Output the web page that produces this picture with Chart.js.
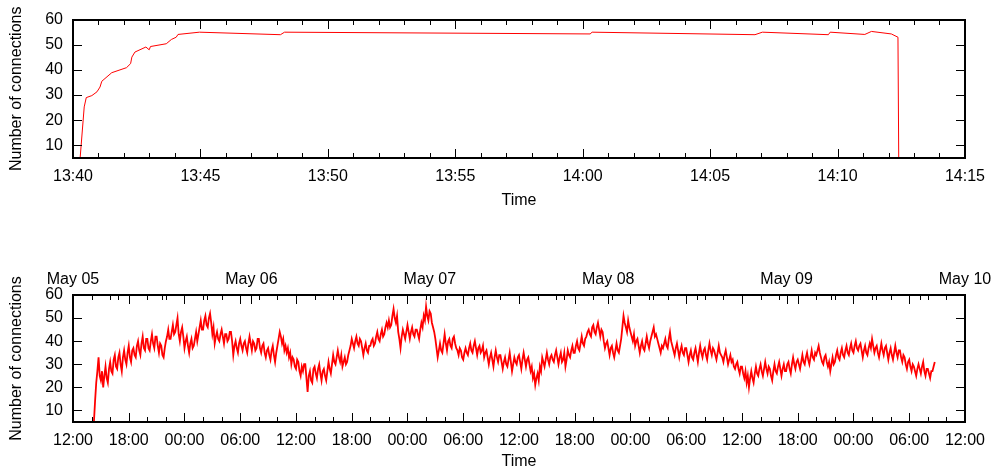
<!DOCTYPE html>
<html>
<head>
<meta charset="utf-8">
<script src="https://cdn.jsdelivr.net/npm/chart.js@4.4.0/dist/chart.umd.min.js"></script>
<style>
  body { margin: 0; background: #fff; }
  canvas { position: absolute; left: 0; }
  #haut { top: 0; }
  #bas { top: 237px; }
</style>
</head>
<body>
<canvas id="haut" width="994" height="237"></canvas>
<canvas id="bas" width="994" height="237"></canvas>
<script>
// top panel : minutes after 13:40, number of connections
var debutMinutes = [0.28, 0.44, 0.52, 0.74, 0.94, 1.06, 1.13, 1.52, 2.1, 2.26, 2.31, 2.43, 2.86, 2.99, 3.04, 3.66, 3.86, 4.05, 4.12, 4.96, 8.14, 8.3, 20.29, 20.37, 26.76, 27.05, 29.64, 29.71, 31.07, 31.33, 32.11, 32.37, 32.4];
var debutConnexions = [5, 25.3, 29, 29.8, 31.3, 33.2, 35.5, 38.9, 40.9, 42.5, 45.1, 47.1, 49.1, 48, 49.3, 50.4, 52.1, 53, 54.1, 55, 54, 55, 54.3, 55, 54, 55, 54, 55, 54.1, 55.3, 54.3, 53, 5];

// bottom panel : one reading every 7.5 minutes, hours counted from May 05 00:00
var heureDebut = 14.25;
var pasHeures = 0.125;
var connexionsSemaine = [
  5, 14, 22, 27, 33, 25,
  23, 27, 20, 25, 29, 24, 22, 28,   31, 27, 26, 32, 34, 29, 28, 33,
  35, 30, 27, 33, 36, 32, 30, 35,   38, 33, 31, 36, 37, 34, 33, 38,
  40, 36, 34, 39, 42, 37, 36, 41,   41, 37, 36, 40, 43, 39, 37, 42,
  42, 38, 35, 39, 38, 34, 33, 37,   40, 42, 45, 41, 41, 44, 47, 43,
  44, 47, 50, 43, 40, 44, 46, 42,   37, 40, 42, 38, 35, 39, 41, 37,
  38, 41, 44, 40, 43, 46, 49, 45,   45, 49, 51, 47, 46, 50, 52, 48,
  43, 46, 39, 42, 44, 41, 40, 43,   45, 42, 39, 43, 43, 40, 41, 44,
  44, 40, 34, 38, 40, 37, 35, 39,   41, 38, 36, 39, 40, 37, 35, 39,
  42, 39, 36, 40, 39, 36, 37, 41,   41, 37, 35, 38, 39, 35, 33, 36,
  37, 34, 32, 36, 38, 34, 31, 35,   38, 41, 44, 42, 39, 41, 36, 38,
  35, 37, 33, 35, 30, 33, 32, 29,   28, 32, 31, 27, 25, 29, 27, 30,
  30, 24, 18, 25, 27, 23, 22, 28,   29, 26, 24, 28, 30, 26, 23, 27,
  28, 25, 23, 27, 31, 28, 26, 30,   34, 31, 30, 33, 36, 33, 31, 34,
  29, 31, 33, 30, 31, 34, 36, 38,   41, 39, 37, 40, 42, 39, 38, 41,
  40, 37, 34, 37, 39, 36, 35, 38,   38, 40, 41, 38, 39, 42, 44, 41,
  40, 43, 45, 42, 43, 46, 48, 46,   49, 46, 47, 51, 54, 50, 48, 51,
  44, 41, 37, 42, 45, 43, 41, 44,   47, 44, 41, 44, 46, 43, 42, 45,
  45, 43, 41, 45, 48, 46, 51, 49,   55, 51, 49, 53, 52, 48, 46, 44,
  41, 37, 33, 36, 39, 36, 35, 39,   43, 39, 36, 40, 41, 38, 37, 41,
  42, 39, 37, 36, 34, 37, 36, 33,   32, 35, 37, 35, 34, 37, 39, 36,
  35, 38, 40, 37, 34, 37, 38, 35,   36, 38, 33, 35, 36, 33, 30, 33,
  35, 32, 29, 33, 36, 33, 31, 34,   34, 31, 28, 31, 33, 30, 29, 32,
  35, 31, 27, 30, 33, 31, 30, 33,   34, 31, 28, 32, 35, 32, 29, 32,
  33, 30, 27, 29, 24, 26, 21, 24,   26, 23, 29, 27, 33, 31, 29, 32,
  35, 32, 30, 33, 34, 32, 31, 34,   36, 33, 30, 33, 35, 31, 32, 35,
  29, 32, 36, 34, 33, 36, 38, 35,   35, 38, 40, 37, 36, 39, 42, 39,
  38, 41, 42, 44, 45, 43, 42, 46,   47, 44, 43, 46, 48, 45, 42, 45,
  44, 40, 37, 39, 40, 37, 34, 37,   38, 35, 33, 36, 39, 36, 35, 38,
  41, 46, 51, 48, 46, 44, 49, 46,   44, 42, 40, 43, 38, 40, 41, 38,
  35, 38, 40, 37, 36, 39, 42, 39,   37, 40, 42, 44, 46, 42, 43, 41,
  39, 37, 35, 38, 37, 39, 41, 38,   37, 41, 44, 40, 38, 36, 34, 37,
  39, 36, 33, 36, 38, 35, 34, 37,   37, 34, 31, 34, 36, 33, 32, 35,
  37, 34, 31, 35, 38, 35, 33, 36,   37, 34, 32, 36, 39, 36, 34, 37,
  36, 34, 32, 35, 38, 35, 34, 33,   31, 34, 36, 33, 30, 32, 34, 31,
  32, 29, 28, 30, 31, 28, 26, 29,   29, 26, 24, 27, 22, 25, 20, 24,
  27, 24, 22, 26, 29, 26, 25, 28,   30, 27, 25, 28, 31, 28, 26, 29,
  28, 25, 23, 27, 30, 27, 26, 29,   31, 28, 25, 28, 30, 27, 27, 30,
  31, 28, 26, 30, 33, 30, 28, 31,   32, 30, 28, 31, 34, 31, 30, 33,
  35, 32, 30, 33, 36, 33, 32, 35,   34, 36, 38, 35, 33, 31, 30, 33,
  34, 31, 29, 31, 27, 30, 33, 30,   31, 34, 36, 33, 32, 35, 37, 34,
  33, 36, 38, 35, 34, 37, 39, 36,   35, 38, 40, 37, 36, 38, 39, 36,
  33, 36, 38, 35, 34, 37, 39, 37,   41, 38, 35, 37, 38, 35, 33, 36,
  39, 36, 34, 37, 38, 35, 32, 35,   37, 34, 32, 35, 38, 35, 33, 36,
  36, 33, 31, 34, 33, 30, 28, 31,   32, 29, 27, 30, 29, 27, 25, 28,
  30, 28, 26, 29, 31, 27, 25, 28,   28, 26, 24, 27, 27, 29, 31
];
var jours = ["May 05", "May 06", "May 07", "May 08", "May 09", "May 10"];
var graduationsY = [10, 20, 30, 40, 50, 60];

Chart.defaults.font.family = "'Liberation Sans', Arial, sans-serif";
Chart.defaults.font.size = 16;
Chart.defaults.color = "#000";

function deux(n) { return (n < 10 ? "0" : "") + n; }

// gnuplot style frame with ticks pointing inward
var cadre = {
  id: "cadre",
  afterDraw: function(chart) {
    var ctx = chart.ctx, a = chart.chartArea;
    var L = Math.round(a.left), R = Math.round(a.right), T = Math.round(a.top), B = Math.round(a.bottom);
    ctx.save();
    ctx.strokeStyle = "#000";
    ctx.lineWidth = 1;
    ctx.beginPath();
    var xs = chart.scales.x;
    xs.ticks.forEach(function(t) {
      var px = Math.round(xs.getPixelForValue(t.value)) + 0.5;
      var len = t.label ? 9 : 5;
      ctx.moveTo(px, B); ctx.lineTo(px, B - len);
      ctx.moveTo(px, T); ctx.lineTo(px, T + len);
    });
    if (chart.scales.x2) {
      var x2 = chart.scales.x2;
      x2.ticks.forEach(function(t) {
        var px = Math.round(x2.getPixelForValue(t.value)) + 0.5;
        var len = t.label ? 9 : 5;
        ctx.moveTo(px, T); ctx.lineTo(px, T + len);
      });
    }
    var ys = chart.scales.y;
    ys.ticks.forEach(function(t) {
      var py = Math.round(ys.getPixelForValue(t.value)) + 0.5;
      ctx.moveTo(L, py); ctx.lineTo(L + 9, py);
      ctx.moveTo(R, py); ctx.lineTo(R - 9, py);
    });
    ctx.stroke();
    ctx.lineWidth = 2;
    ctx.strokeRect(L, T, R - L, B - T);
    ctx.restore();
  }
};

function axeY() {
  return {
    min: 5, max: 60,
    grid: { display: false, drawTicks: false },
    border: { display: false },
    afterBuildTicks: function(s) { s.ticks = graduationsY.map(function(v) { return { value: v }; }); },
    afterFit: function(s) { s.width = 73; },
    ticks: { padding: 10 },
    title: { display: true, text: "Number of connections", padding: { top: 7, bottom: 0 } }
  };
}

var pointsHaut = debutMinutes.map(function(m, i) { return { x: m, y: debutConnexions[i] }; });
new Chart(document.getElementById("haut"), {
  type: "line",
  data: { datasets: [{ data: pointsHaut, borderColor: "#ff0000", borderWidth: 1, pointRadius: 0, tension: 0 }] },
  options: {
    responsive: false, animation: false,
    layout: { padding: { top: 19, right: 25, left: 0, bottom: 0 } },
    plugins: { legend: { display: false }, tooltip: { enabled: false } },
    scales: {
      x: {
        type: "linear", min: 0, max: 35,
        grid: { display: false, drawTicks: false },
        border: { display: false },
        afterFit: function(s) { s.height = 79; },
        ticks: {
          stepSize: 1, autoSkip: false, maxRotation: 0, padding: 9, maxTicksLimit: 100,
          callback: function(v) {
            if (v % 5 !== 0) return "";
            var t = 13 * 60 + 40 + v;
            return deux(Math.floor(t / 60)) + ":" + deux(t % 60);
          }
        },
        title: { display: true, text: "Time", padding: { top: 0, bottom: 27 } }
      },
      y: axeY()
    }
  },
  plugins: [cadre]
});

var pointsBas = connexionsSemaine.map(function(v, i) { return { x: heureDebut + i * pasHeures, y: v }; });
new Chart(document.getElementById("bas"), {
  type: "line",
  data: { datasets: [{ data: pointsBas, borderColor: "#ff0000", borderWidth: 1.8, pointRadius: 0, tension: 0 }] },
  options: {
    responsive: false, animation: false,
    layout: { padding: { top: 0, right: 25, left: 0, bottom: 0 } },
    plugins: { legend: { display: false }, tooltip: { enabled: false } },
    scales: {
      x: {
        type: "linear", min: 12, max: 108,
        grid: { display: false, drawTicks: false },
        border: { display: false },
        afterFit: function(s) { s.height = 52; },
        ticks: {
          stepSize: 2, autoSkip: false, maxRotation: 0, padding: 9, maxTicksLimit: 100,
          callback: function(v) { return v % 6 === 0 ? deux(v % 24) + ":00" : ""; }
        },
        title: { display: true, text: "Time", padding: { top: 0, bottom: 3 } }
      },
      x2: {
        type: "linear", position: "top", min: 0, max: 5,
        grid: { display: false, drawTicks: false },
        border: { display: false },
        afterFit: function(s) { s.height = 58; s.paddingRight = 0; s.paddingLeft = 0; },
        ticks: {
          stepSize: 0.25, autoSkip: false, maxRotation: 0, padding: 6, maxTicksLimit: 100,
          callback: function(v) { return Number.isInteger(v) ? jours[v] : ""; }
        }
      },
      y: axeY()
    }
  },
  plugins: [cadre]
});
</script>
</body>
</html>
